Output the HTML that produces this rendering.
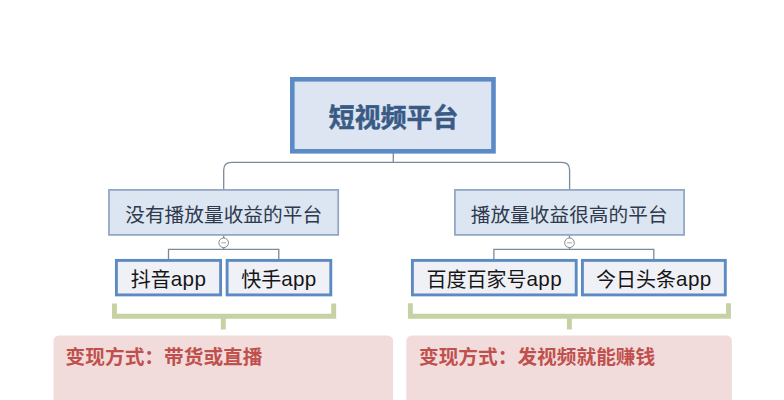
<!DOCTYPE html>
<html lang="zh-CN">
<head>
<meta charset="utf-8">
<title>短视频平台</title>
<style>
html,body{margin:0;padding:0;}
body{width:784px;height:400px;background:#fff;position:relative;overflow:hidden;
  font-family:"Liberation Sans","Noto Sans CJK SC",sans-serif;}
svg{position:absolute;left:0;top:0;}
.node{position:absolute;display:flex;align-items:center;justify-content:center;white-space:nowrap;}
#root{left:290.6px;top:76.8px;width:206px;height:77px;color:#3a5a86;font-weight:700;font-size:25.9px;-webkit-text-stroke:0.5px #3a5a86;}
.l2{top:190px;height:47px;color:#2e3a4c;font-size:19.7px;}
.l3{top:260.3px;height:37.4px;color:#161616;font-size:20px;}
.l3 i{font-style:normal;font-size:20.6px;letter-spacing:0.4px;}
.pink{position:absolute;top:343px;white-space:nowrap;line-height:28px;color:#c0504d;font-weight:bold;font-size:19.7px;}
</style>
</head>
<body>
<svg width="784" height="400" viewBox="0 0 784 400">
  <!-- pink panels -->
  <g fill="#f2dcdb">
    <rect x="53.5" y="335.5" width="339.6" height="80" rx="5.5"/>
    <rect x="406.3" y="335.5" width="325.6" height="80" rx="5.5"/>
  </g>
  <!-- connectors -->
  <g fill="none" stroke="#7a8a9b" stroke-width="1.3">
    <path d="M393.3 153 V162.3"/>
    <path d="M223.7 189.5 V170 Q223.7 162.3 231.5 162.3 H561.8 Q569.6 162.3 569.6 170 V189.5"/>
    <path d="M223.7 235.5 V249.3 M168.5 259.5 V249.3 H278.8 V259.5"/>
    <path d="M569.5 235.5 V249.3 M493.9 259.5 V249.3 H653.8 V259.5"/>
  </g>
  <!-- root -->
  <rect x="292.3" y="79.3" width="201.2" height="72" fill="#dce5f1" stroke="#5a8bc6" stroke-width="4.6"/>
  <!-- level 2 -->
  <g fill="#dce5f2" stroke="#93a8c5" stroke-width="1.8">
    <rect x="109" y="189.9" width="229.2" height="45"/>
    <rect x="454.9" y="189.9" width="229.2" height="45"/>
  </g>
  <!-- level 3 -->
  <g fill="#f0f1f7" stroke="#5c8ac2" stroke-width="2.9">
    <rect x="116.4" y="260.4" width="104.2" height="34.5"/>
    <rect x="227.1" y="260.4" width="103.7" height="34.5"/>
    <rect x="412.4" y="260.4" width="163.8" height="34.5"/>
    <rect x="582.4" y="260.4" width="142.9" height="34.5"/>
  </g>
  <!-- collapse buttons -->
  <g fill="#fff" stroke="#7f8a95" stroke-width="1">
    <circle cx="223.7" cy="242.8" r="4.8"/>
    <circle cx="569.5" cy="242.8" r="4.8"/>
  </g>
  <g stroke="#a0a8b0" stroke-width="1">
    <path d="M221.3 242.8 H226.1"/>
    <path d="M567.1 242.8 H571.9"/>
  </g>
  <!-- brackets -->
  <g fill="none" stroke="#c6d2a3" stroke-width="4.9">
    <path d="M114.45 303.4 V316.2 H333.7 V303.4 M223.3 316 V329.6"/>
    <path d="M410.35 303.3 V316.2 H728.5 V303.3 M569.4 316 V329.6"/>
  </g>
</svg>
<div id="root" class="node">短视频平台</div>
<div class="node l2" style="left:108.2px;width:231px;">没有播放量收益的平台</div>
<div class="node l2" style="left:453.7px;width:231px;">播放量收益很高的平台</div>
<div class="node l3" style="left:115px;width:107px;">抖音<i>app</i></div>
<div class="node l3" style="left:225.7px;width:106.5px;">快手<i>app</i></div>
<div class="node l3" style="left:411px;width:166.6px;">百度百家号<i>app</i></div>
<div class="node l3" style="left:581px;width:145.8px;">今日头条<i>app</i></div>
<div class="pink" style="left:65.6px;">变现方式：带货或直播</div>
<div class="pink" style="left:419px;">变现方式：发视频就能赚钱</div>
</body>
</html>
